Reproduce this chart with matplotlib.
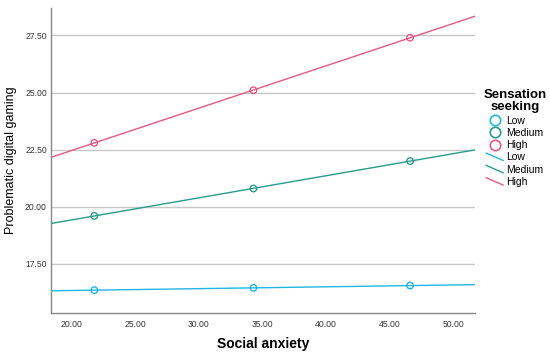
import numpy as np
import matplotlib.pyplot as plt
from matplotlib.lines import Line2D
from matplotlib.legend_handler import HandlerBase

# Data
x_points = [21.8, 34.3, 46.6]
groups = ['Low', 'Medium', 'High']
low_vals = [16.35, 16.45, 16.55]
medium_vals = [19.6, 20.8, 22.0]
high_vals = [22.8, 25.1, 27.4]
colors = ['#22b5e8', '#2a9a8c', '#e35b82']

x_ticks = [20, 25, 30, 35, 40, 45, 50]
y_ticks = [17.5, 20.0, 22.5, 25.0, 27.5]
xlim = (18.4, 51.7)
ylim = (15.35, 28.7)


class DiagLineHandler(HandlerBase):
    def create_artists(self, legend, orig_handle, xdescent, ydescent,
                       width, height, fontsize, trans):
        ln = Line2D([0, width], [height, 0], color=orig_handle.get_color(),
                    lw=orig_handle.get_linewidth(), transform=trans)
        return [ln]


plt.rcParams['font.family'] = ['Liberation Sans', 'DejaVu Sans']
fig = plt.figure(figsize=(5.5, 3.56), dpi=100)
ax = fig.add_axes([51 / 550, 1 - 313 / 356, 424 / 550, 305 / 356])

xs = np.array(xlim)
for vals, c in zip([low_vals, medium_vals, high_vals], colors):
    slope, icpt = np.polyfit(x_points, vals, 1)
    ax.plot(xs, slope * xs + icpt, color=c, lw=1.0, zorder=3)
    ax.scatter(x_points, vals, s=22, facecolors='none', edgecolors=c,
               linewidths=1.0, zorder=4)

ax.set_xlim(*xlim)
ax.set_ylim(*ylim)
ax.set_xticks(x_ticks)
ax.set_yticks(y_ticks)
ax.set_xticklabels(['%.2f' % v for v in x_ticks])
ax.set_yticklabels(['%.2f' % v for v in y_ticks])
ax.tick_params(length=0, labelsize=6.2, colors='#333333')
ax.tick_params(axis='x', pad=5)
ax.tick_params(axis='y', pad=3)
ax.grid(axis='y', color='#c8c8c8', lw=1.0)
ax.set_axisbelow(True)
for s in ['top', 'right']:
    ax.spines[s].set_visible(False)
for s in ['left', 'bottom']:
    ax.spines[s].set_color('#888888')
    ax.spines[s].set_linewidth(1.0)

ax.set_xlabel('Social anxiety', fontsize=10, fontweight='bold')
ax.set_ylabel('Problematic digital gaming', fontsize=9)
ax.xaxis.set_label_coords(0.5, -(344 - 313) / 305, transform=ax.transAxes)
ax.yaxis.set_label_coords(-(51 - 11) / 424, 0.5, transform=ax.transAxes)
ax.xaxis.label.set_va('center')
ax.yaxis.label.set_va('center')

marker_handles = [Line2D([], [], marker='o', ls='none', markersize=7.5,
                         markerfacecolor='none', markeredgecolor=c, mew=1.2)
                  for c in colors]
line_handles = [Line2D([], [], color=c, lw=1.0) for c in colors]
leg = fig.legend(marker_handles + line_handles, groups + groups,
                 title='Sensation\nseeking', loc='upper left',
                 bbox_to_anchor=(476 / 550, 1 - 82 / 356), frameon=False,
                 fontsize=7.5, handlelength=1.6, handletextpad=0.3,
                 labelspacing=0.22, borderpad=0.2,
                 handler_map={h: DiagLineHandler() for h in line_handles})
leg.get_title().set_fontweight('bold')
leg.get_title().set_fontsize(9.5)
leg.get_title().set_linespacing(1.0)
leg.get_title().set_multialignment('center')

fig.savefig('out.png', dpi=100)
